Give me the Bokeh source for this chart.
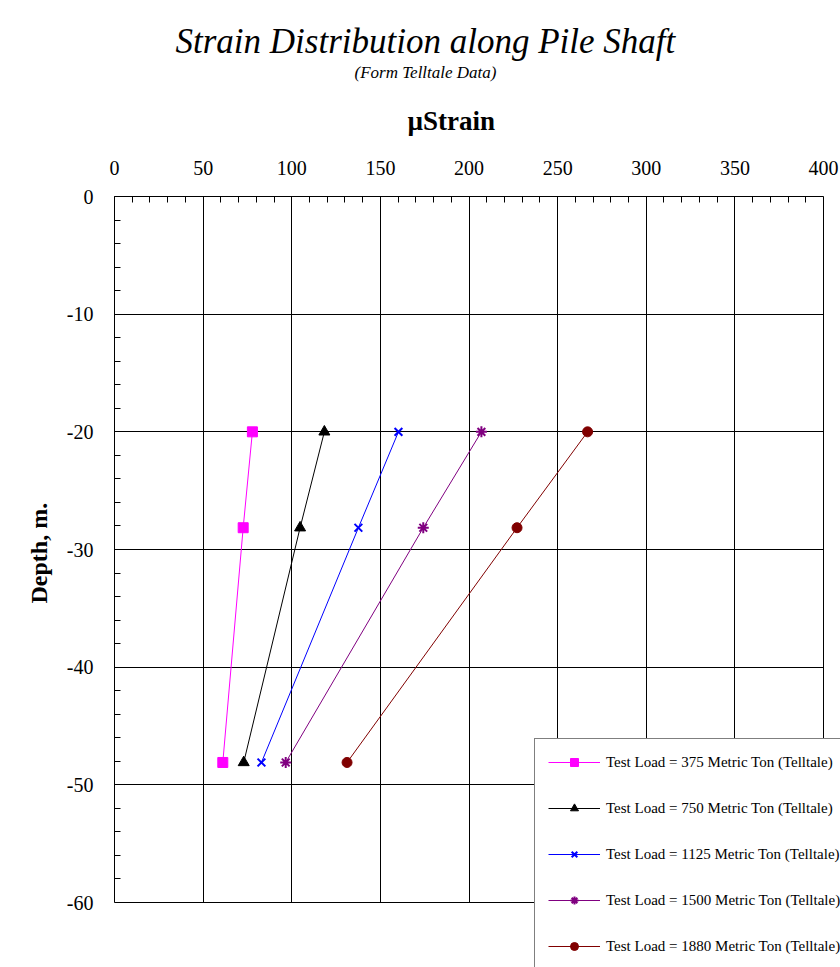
from bokeh.plotting import figure
from bokeh.models import (Range1d, LinearAxis, FixedTicker, Legend, LegendItem,
                          Title, BoxAnnotation, Span)
from bokeh.embed import file_html
from bokeh.resources import INLINE

# ---- data ----
depth = [-20.0, -28.15, -48.1]
strain_375 = [77.8, 72.6, 61.1]
strain_750 = [118.4, 104.7, 72.9]
strain_1125 = [160.2, 137.6, 82.9]
strain_1500 = [207.0, 174.2, 96.6]
strain_1880 = [266.9, 227.1, 131.2]

series_names = [
    "Test Load = 375 Metric Ton (Telltale)",
    "Test Load = 750 Metric Ton (Telltale)",
    "Test Load = 1125 Metric Ton (Telltale)",
    "Test Load = 1500 Metric Ton (Telltale)",
    "Test Load = 1880 Metric Ton (Telltale)",
]

x_ticks = [0, 50, 100, 150, 200, 250, 300, 350, 400]
x_minor = list(range(0, 401, 10))
y_ticks = [-60, -50, -40, -30, -20, -10, 0]
y_tick_labels = ["-60", "-50", "-40", "-30", "-20", "-10", "0"]
y_minor = list(range(-60, 1, 2))

X_MIN, X_MAX = 0, 400
Y_MIN, Y_MAX = -60, 0

FONT = "Liberation Serif"

W, H = 840, 967
LEFT, TOP = 114, 196
PLOT_W_PX = 709      # pixels from 0 to 400
PLOT_H_PX = 706      # pixels from 0 to -60
frame_w = W - LEFT
frame_h = H - TOP
x_end = X_MAX * frame_w / PLOT_W_PX
y_start = Y_MIN * frame_h / PLOT_H_PX

p = figure(width=W, height=H, output_backend="svg", toolbar_location=None,
           x_range=Range1d(X_MIN, x_end), y_range=Range1d(y_start, Y_MAX),
           x_axis_location=None, y_axis_location=None,
           min_border_left=LEFT, min_border_right=0,
           min_border_top=TOP, min_border_bottom=0)
p.background_fill_color = "white"
p.border_fill_color = "white"
p.outline_line_color = None

# top x axis
xa = LinearAxis(bounds=(X_MIN, X_MAX))
xa.ticker = FixedTicker(ticks=x_ticks, minor_ticks=x_minor)
xa.major_label_text_font = FONT
xa.major_label_text_font_size = "20px"
xa.major_label_text_color = "black"
xa.major_label_standoff = 22
xa.major_tick_in = 0
xa.major_tick_out = 0
xa.minor_tick_in = 6
xa.minor_tick_out = 0
xa.axis_line_color = "black"
xa.minor_tick_line_color = "black"
p.add_layout(xa, "above")

# left y axis
ya = LinearAxis(bounds=(Y_MIN, Y_MAX))
ya.ticker = FixedTicker(ticks=y_ticks, minor_ticks=y_minor)
ya.major_label_overrides = {t: l for t, l in zip(y_ticks, y_tick_labels)}
ya.major_label_text_font = FONT
ya.major_label_text_font_size = "20px"
ya.major_label_text_color = "black"
ya.major_label_standoff = 21
ya.major_tick_in = 0
ya.major_tick_out = 0
ya.minor_tick_in = 6
ya.minor_tick_out = 0
ya.axis_line_color = "black"
ya.minor_tick_line_color = "black"
p.add_layout(ya, "left")

# y axis title (placed so that it is centred on the 0..-60 span)
t_y = Title(text="Depth, m.", align="left", offset=364,
            text_font=FONT, text_font_style="bold", text_font_size="24px",
            text_color="black", standoff=24)
p.add_layout(t_y, "left")

# titles stacked above the axis
t_axis = Title(text="\u00b5Strain", align="left", offset=293,
               text_font=FONT, text_font_style="bold", text_font_size="27px",
               text_color="black", standoff=44)
t_sub = Title(text="(Form Telltale Data)", align="left", offset=240,
              text_font=FONT, text_font_style="italic", text_font_size="17px",
              text_color="black", standoff=0)
t_main = Title(text="Strain Distribution along Pile Shaft", align="left", offset=61,
               text_font=FONT, text_font_style="italic", text_font_size="35px",
               text_color="black", standoff=0)
p.add_layout(t_axis, "above")
p.add_layout(t_sub, "above")
p.add_layout(t_main, "above")

p.xgrid.ticker = FixedTicker(ticks=x_ticks)
p.ygrid.ticker = FixedTicker(ticks=y_ticks)
p.xgrid.grid_line_color = "black"
p.ygrid.grid_line_color = "black"
p.xgrid.grid_line_width = 1
p.ygrid.grid_line_width = 1

# series
items = []
specs = [
    (strain_375, "#FF00FF", "square", 10, 1),
    (strain_750, "#000000", "triangle", 11, 1),
    (strain_1125, "#0000FF", "x", 11, 2),
    (strain_1500, "#800080", "asterisk", 11, 2),
    (strain_1880, "#800000", "circle", 10, 1),
]
for (vals, col, mk, sz, lw), name in zip(specs, series_names):
    ln = p.line(vals, depth, line_color=col, line_width=1)
    sc = p.scatter(vals, depth, marker=mk, size=sz, fill_color=col,
                   line_color=col, line_width=lw)
    items.append(LegendItem(label=name, renderers=[ln, sc]))

# blank out the area outside 0..400 / -60..0 and close the box
p.add_layout(BoxAnnotation(top=Y_MIN, fill_color="white", fill_alpha=1,
                           line_alpha=0))
p.add_layout(BoxAnnotation(left=X_MAX, fill_color="white", fill_alpha=1,
                           line_alpha=0))
p.add_layout(Span(location=Y_MIN, dimension="width", line_color="black",
                  line_width=1))
p.add_layout(Span(location=X_MAX, dimension="height", line_color="black",
                  line_width=1))

legend_h = 13 * 2 + 5 * 20 + 4 * 26
legend = Legend(items=items, location=(534 - LEFT, H - (740 + legend_h)))
legend.padding = 13
legend.spacing = 26
legend.glyph_height = 20
legend.glyph_width = 52
legend.label_height = 20
legend.label_standoff = 6
legend.label_text_font = FONT
legend.label_text_font_size = "15px"
legend.label_text_color = "black"
legend.border_line_color = "black"
legend.border_line_width = 1
legend.background_fill_color = "white"
legend.background_fill_alpha = 1
legend.margin = 0
p.add_layout(legend, "center")

open("out.html", "w").write(file_html(p, INLINE))
